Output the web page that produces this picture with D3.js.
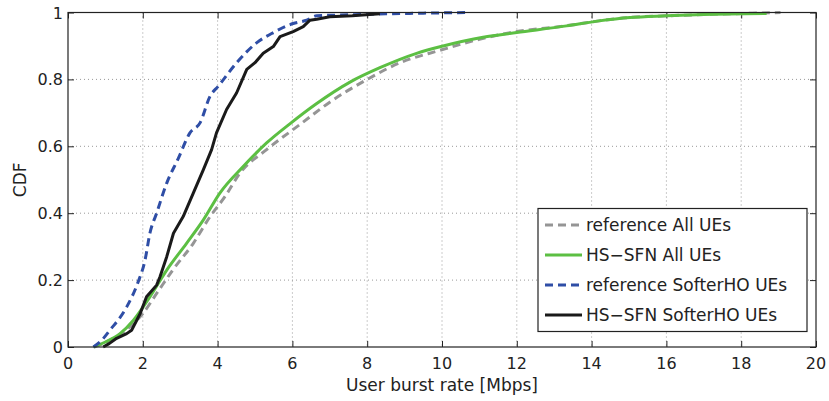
<!DOCTYPE html>
<html>
<head>
<meta charset="utf-8">
<script src="https://cdn.jsdelivr.net/npm/d3@7"></script>
<style>
  body { margin: 0; background: white; }
  text { font-family: "DejaVu Sans", "Liberation Sans", Arial, sans-serif; fill: #222; }
</style>
</head>
<body>
<svg width="829" height="401"></svg>
<script>
// data (x in Mbps, y = CDF)
var refAllX = [0.7, 1.2, 1.6, 2.0, 2.4, 2.8, 3.35, 3.8, 4.2, 4.6, 5.31, 6.2, 7.0, 8.0, 8.88, 9.95, 11.0, 12.0, 13.3, 14.2, 15.0, 16.0, 17.0, 18.0, 19.05];
var refAllY = [0, 0.025, 0.055, 0.10, 0.165, 0.23, 0.31, 0.39, 0.45, 0.52, 0.59, 0.665, 0.732, 0.80, 0.85, 0.887, 0.92, 0.943, 0.96, 0.975, 0.985, 0.99, 0.994, 0.997, 1];

var hsAllX = [0.68, 1.0, 1.39, 1.75, 2.19, 2.64, 3.17, 3.62, 4.06, 4.69, 5.31, 5.94, 6.65, 7.54, 8.34, 9.32, 10.03, 11.1, 12.0, 13.33, 14.2, 15.03, 16.0, 17.0, 18.68];
var hsAllY = [0, 0.015, 0.04, 0.08, 0.15, 0.23, 0.31, 0.38, 0.46, 0.54, 0.61, 0.668, 0.728, 0.792, 0.835, 0.878, 0.90, 0.926, 0.94, 0.96, 0.975, 0.985, 0.99, 0.994, 0.997];

var refSofterX = [0.68, 0.9, 1.12, 1.57, 1.86, 2.06, 2.19, 2.37, 2.64, 2.95, 3.26, 3.53, 3.8, 4.02, 4.51, 5.05, 5.49, 6.02, 6.38, 6.65, 7.5, 8.5, 9.5, 10.75];
var refSofterY = [0, 0.02, 0.05, 0.12, 0.19, 0.26, 0.34, 0.40, 0.49, 0.564, 0.64, 0.67, 0.75, 0.78, 0.85, 0.91, 0.94, 0.967, 0.977, 0.99, 0.993, 0.996, 0.998, 1];

var hsSofterX = [0.94, 1.1, 1.3, 1.57, 1.7, 1.93, 2.1, 2.37, 2.46, 2.64, 2.82, 3.08, 3.35, 3.62, 3.84, 3.97, 4.24, 4.51, 4.78, 5.0, 5.22, 5.49, 5.67, 6.02, 6.29, 6.47, 6.65, 7.0, 7.6, 8.34];
var hsSofterY = [0, 0.01, 0.026, 0.04, 0.05, 0.10, 0.15, 0.185, 0.21, 0.27, 0.34, 0.39, 0.46, 0.53, 0.59, 0.64, 0.71, 0.76, 0.83, 0.85, 0.878, 0.898, 0.928, 0.943, 0.958, 0.977, 0.98, 0.987, 0.99, 0.996];

var seriesNames = ["reference All UEs", "HS\u2212SFN All UEs", "reference SofterHO UEs", "HS\u2212SFN SofterHO UEs"];
var xTicks = [0, 2, 4, 6, 8, 10, 12, 14, 16, 18, 20];
var yTicks = [0, 0.2, 0.4, 0.6, 0.8, 1];

var plotLeft = 68, plotRight = 816, plotTop = 12.5, plotBottom = 347;

var svg = d3.select("svg");

var xscale = d3.scaleLinear().domain([0, 20]).range([plotLeft, plotRight]);
var yscale = d3.scaleLinear().domain([0, 1]).range([plotBottom, plotTop]);

// Grid
var grid = svg.append("g");
grid.selectAll(".gx")
    .data(xTicks.slice(1, -1))
    .enter().append("line")
    .attr("x1", function(d) { return xscale(d); })
    .attr("x2", function(d) { return xscale(d); })
    .attr("y1", plotTop).attr("y2", plotBottom)
    .attr("stroke", "#999").attr("stroke-width", 1)
    .attr("stroke-dasharray", "1,3");
grid.selectAll(".gy")
    .data(yTicks.slice(1, -1))
    .enter().append("line")
    .attr("y1", function(d) { return yscale(d); })
    .attr("y2", function(d) { return yscale(d); })
    .attr("x1", plotLeft).attr("x2", plotRight)
    .attr("stroke", "#999").attr("stroke-width", 1)
    .attr("stroke-dasharray", "1,3");

// Axes (ticks pointing inward)
var xAxis = svg.append("g")
    .attr("transform", "translate(0," + plotBottom + ")")
    .call(d3.axisTop(xscale).tickValues(xTicks).tickSize(6).tickFormat(""));
var xAxisTop = svg.append("g")
    .attr("transform", "translate(0," + plotTop + ")")
    .call(d3.axisBottom(xscale).tickValues(xTicks).tickSize(6).tickFormat(""));
var yAxis = svg.append("g")
    .attr("transform", "translate(" + plotLeft + ",0)")
    .call(d3.axisRight(yscale).tickValues(yTicks).tickSize(6).tickFormat(""));
var yAxisRight = svg.append("g")
    .attr("transform", "translate(" + plotRight + ",0)")
    .call(d3.axisLeft(yscale).tickValues(yTicks).tickSize(6).tickFormat(""));
[xAxis, xAxisTop, yAxis, yAxisRight].forEach(function(a) {
    a.select(".domain").remove();
    a.selectAll("line").attr("stroke", "#222");
});

// Tick labels
svg.append("g").selectAll("text")
    .data(xTicks)
    .enter().append("text")
    .attr("x", function(d) { return xscale(d); })
    .attr("y", 369)
    .attr("text-anchor", "middle")
    .style("font-size", "16px")
    .text(function(d) { return d; });
svg.append("g").selectAll("text")
    .data(yTicks)
    .enter().append("text")
    .attr("x", 63)
    .attr("y", function(d) { return yscale(d) + 6; })
    .attr("text-anchor", "end")
    .style("font-size", "16px")
    .text(function(d) { return d; });

// Axis titles
svg.append("text")
    .attr("x", (plotLeft + plotRight) / 2)
    .attr("y", 391)
    .attr("text-anchor", "middle")
    .style("font-size", "17px")
    .text("User burst rate [Mbps]");
svg.append("text")
    .attr("transform", "translate(26," + ((plotTop + plotBottom) / 2) + ") rotate(-90)")
    .attr("text-anchor", "middle")
    .style("font-size", "17px")
    .text("CDF");

// Curves
var series = [
    {x: refAllX, y: refAllY, color: "#959595", dash: "8,5", curve: d3.curveMonotoneX},
    {x: hsAllX, y: hsAllY, color: "#5cbf43", dash: null, curve: d3.curveMonotoneX},
    {x: refSofterX, y: refSofterY, color: "#2f4ea6", dash: "8,5", curve: d3.curveMonotoneX},
    {x: hsSofterX, y: hsSofterY, color: "#1a1a1a", dash: null, curve: d3.curveLinear}
];

series.forEach(function(s) {
    var pts = s.x.map(function(v, i) { return [v, s.y[i]]; });
    var line = d3.line()
        .curve(s.curve)
        .x(function(d) { return xscale(d[0]); })
        .y(function(d) { return yscale(d[1]); });
    svg.append("path")
        .attr("d", line(pts))
        .attr("fill", "none")
        .attr("stroke", s.color)
        .attr("stroke-width", 3)
        .attr("stroke-linejoin", "round")
        .attr("stroke-dasharray", s.dash);
});

// Plot box
svg.append("rect")
    .attr("x", plotLeft).attr("y", plotTop)
    .attr("width", plotRight - plotLeft).attr("height", plotBottom - plotTop)
    .attr("fill", "none").attr("stroke", "#222").attr("stroke-width", 1.2);

// Legend
var legend = svg.append("g");
legend.append("rect")
    .attr("x", 538).attr("y", 208.5)
    .attr("width", 269).attr("height", 123)
    .attr("fill", "white").attr("stroke", "#222").attr("stroke-width", 1.2);
series.forEach(function(s, i) {
    var ly = 225 + i * 30;
    legend.append("line")
        .attr("x1", 545).attr("x2", 582)
        .attr("y1", ly).attr("y2", ly)
        .attr("stroke", s.color).attr("stroke-width", 3)
        .attr("stroke-dasharray", s.dash);
    legend.append("text")
        .attr("x", 586).attr("y", ly + 6)
        .style("font-size", "17px")
        .text(seriesNames[i]);
});
</script>
</body>
</html>
